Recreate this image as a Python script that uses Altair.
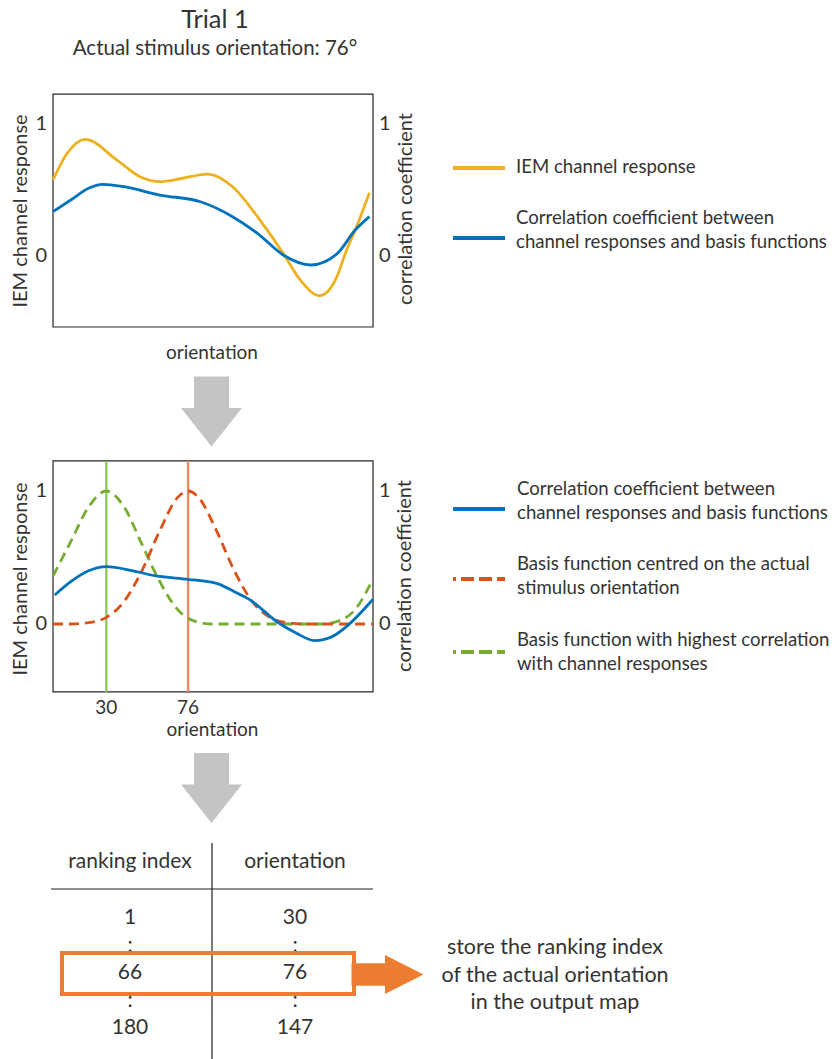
import altair as alt
import pandas as pd

FONT = "Lato"
TXT = "#333333"
YELLOW = "#EDB120"
BLUE = "#0072BD"
RED = "#D95319"
GREEN = "#77AC30"
RED_LIGHT = "#F0845C"
GREEN_LIGHT = "#8CC45E"
ORANGE = "#ED7D31"
GRAY_ARROW = "#C4C4C4"

TITLE = "Trial 1"
SUBTITLE = "Actual stimulus orientation: 76°"

# ---- top panel data (orientation in degrees) ----
iem_deg = [0, 8, 18, 36, 49, 60, 73, 87, 101, 116, 129.5, 139, 150, 159.6, 165, 170, 178]
iem_val = [0.576, 0.778, 0.884, 0.727, 0.60, 0.563, 0.589, 0.621, 0.525, 0.28, 0.02, -0.18,
           -0.30, -0.16, 0.04, 0.197, 0.48]
corr1_deg = [0, 10, 20, 28, 40, 60, 83, 101, 115, 129.5, 145, 160, 170, 178]
corr1_val = [0.336, 0.424, 0.513, 0.543, 0.525, 0.462, 0.411, 0.298, 0.172, 0.008, -0.068,
             0.02, 0.197, 0.298]

# ---- middle panel data ----
corr2_deg = [1, 10, 20, 30, 45, 58, 76, 92, 102, 111, 126, 137, 147, 157, 165, 180]
corr2_val = [0.218, 0.318, 0.40, 0.431, 0.40, 0.361, 0.336, 0.306, 0.243, 0.18, 0.017, -0.07,
             -0.125, -0.095, -0.02, 0.186]
basis_actual_deg = [0, 10, 20, 30, 40, 50, 60, 70, 76, 82, 92, 102, 112, 122, 132, 142, 160, 180]
basis_actual_val = [0, 0, 0.01, 0.05, 0.17, 0.40, 0.70, 0.95, 1.0, 0.95, 0.70, 0.40, 0.17, 0.05,
                    0.01, 0, 0, 0]
basis_best_deg = [0, 10, 20, 30, 40, 50, 60, 70, 80, 90, 150, 160, 170, 180]
basis_best_val = [0.36, 0.62, 0.88, 1.0, 0.88, 0.60, 0.32, 0.11, 0.02, 0, 0, 0.02, 0.11, 0.34]
actual_orientation = 76
best_orientation = 30
x_ticks = [30, 76]
y_ticks = [0, 1]
YLIM_A = [-0.538, 1.227]
YLIM_B = [-0.511, 1.226]

LEG_TOP = ["IEM channel response",
           "Correlation coefficient between\nchannel responses and basis functions"]
LEG_MID = ["Correlation coefficient between\nchannel responses and basis functions",
           "Basis function centred on the actual\nstimulus orientation",
           "Basis function with highest correlation\nwith channel responses"]

# ---- table ----
table_header = ["ranking index", "orientation"]
rank_col = ["1", ":", "66", ":", "180"]
orient_col = ["30", ":", "76", ":", "147"]
STORE_TEXT = "store the ranking index\nof the actual orientation\nin the output map"

DOWN_ARROW = "M-0.5,-1L0.5,-1L0.5,-0.1L0.87,-0.1L0,1L-0.87,-0.1L-0.5,-0.1Z"
RIGHT_ARROW = "M-1,-0.31L-0.07,-0.31L-0.07,-0.54L1,0L-0.07,0.54L-0.07,0.31L-1,0.31Z"
LEG_SIZE = 18.6


def ptext(txt, x, y, size=19, angle=0, align="center", line_height=24, baseline="middle"):
    return alt.Chart(pd.DataFrame({"t": [txt]})).mark_text(
        font=FONT, fontSize=size, color=TXT, align=align, baseline=baseline,
        angle=angle, lineBreak="\n", lineHeight=line_height
    ).encode(x=alt.value(x), y=alt.value(y), text="t:N")


def line_df(d, v):
    return pd.DataFrame({"deg": d, "val": v})


XS = alt.Scale(domain=[0, 180], range=[45, 365], nice=False, zero=False)


def panel(ys, ylim, curves, extra=None):
    X = alt.X("deg:Q", scale=XS, axis=None)
    Y = alt.Y("val:Q", scale=ys, axis=None)
    layers = []
    frame = alt.Chart(pd.DataFrame({"x0": [0], "x1": [180], "y0": [ylim[0]], "y1": [ylim[1]]})).mark_rect(
        fillOpacity=0, stroke="#262626", strokeWidth=1.2
    ).encode(x=alt.X("x0:Q", scale=XS, axis=None), x2="x1:Q",
             y=alt.Y("y0:Q", scale=ys, axis=None), y2="y1:Q")
    layers.append(frame)
    if extra:
        layers += extra(X, Y)
    for d, v, col, dash in curves:
        kw = dict(interpolate="monotone", strokeWidth=2.8, color=col)
        if dash:
            kw["strokeDash"] = [10, 6]
        layers.append(alt.Chart(line_df(d, v)).mark_line(**kw).encode(x=X, y=Y))
    tick_df = pd.DataFrame({"val": y_ticks, "t": [str(t) for t in y_ticks]})
    layers.append(alt.Chart(tick_df).mark_text(font=FONT, fontSize=20, color=TXT, align="right",
                                               baseline="middle")
                  .encode(x=alt.value(39), y=Y, text="t:N"))
    layers.append(alt.Chart(tick_df).mark_text(font=FONT, fontSize=20, color=TXT, align="left",
                                               baseline="middle")
                  .encode(x=alt.value(371), y=Y, text="t:N"))
    return alt.layer(*layers)


YA = alt.Scale(domain=[0, 1], range=[248, 116], nice=False, zero=False)
YB = alt.Scale(domain=[0, 1], range=[616, 483], nice=False, zero=False)

plotA = panel(YA, YLIM_A, [(iem_deg, iem_val, YELLOW, False), (corr1_deg, corr1_val, BLUE, False)])


def extraB(X, Y):
    vdf = pd.DataFrame({"deg": [best_orientation, actual_orientation], "y0": [YLIM_B[0]] * 2,
                        "y1": [YLIM_B[1]] * 2, "c": ["best", "actual"]})
    rules = alt.Chart(vdf).mark_rule(strokeWidth=2.3).encode(
        x=X, y=alt.Y("y0:Q", scale=YB, axis=None), y2="y1:Q",
        color=alt.Color("c:N", scale=alt.Scale(domain=["best", "actual"], range=[GREEN_LIGHT, RED_LIGHT]),
                        legend=None))
    tdf = pd.DataFrame({"deg": x_ticks, "t": [str(t) for t in x_ticks]})
    ticks = alt.Chart(tdf).mark_text(font=FONT, fontSize=19, color=TXT, baseline="middle").encode(
        x=X, y=alt.value(700), text="t:N")
    return [rules, ticks]


plotB = panel(YB, YLIM_B, [(basis_best_deg, basis_best_val, GREEN, True),
                           (basis_actual_deg, basis_actual_val, RED, True),
                           (corr2_deg, corr2_val, BLUE, False)], extra=extraB)

# ---- table ----
cells = pd.DataFrame({
    "col": [0] * 5 + [1] * 5,
    "row": list(range(5)) * 2,
    "t": rank_col + orient_col,
})
TX = alt.X("col:Q", scale=alt.Scale(domain=[0, 1], range=[122, 287], nice=False, zero=False), axis=None)
cell_layer = alt.Chart(cells).mark_text(font=FONT, fontSize=21, color=TXT, baseline="middle").encode(
    x=TX, y=alt.Y("row:Q", scale=alt.Scale(domain=[0, 4], range=[910, 1020], nice=False, zero=False),
                  axis=None), text="t:N")
head_layer = alt.Chart(pd.DataFrame({"col": [0, 1], "t": table_header})).mark_text(
    font=FONT, fontSize=21, color=TXT, baseline="middle").encode(x=TX, y=alt.value(854), text="t:N")
table = alt.layer(head_layer, cell_layer)

hline = alt.Chart().mark_rule(color="#222222", strokeWidth=1.2).encode(
    x=alt.value(43), x2=alt.value(365), y=alt.value(881))
vline = alt.Chart().mark_rule(color="#222222", strokeWidth=1.2).encode(
    x=alt.value(204), y=alt.value(835), y2=alt.value(1051))
obox = alt.Chart().mark_rect(fillOpacity=0, stroke=ORANGE, strokeWidth=4).encode(
    x=alt.value(54), x2=alt.value(346), y=alt.value(945), y2=alt.value(986))
oarrow = alt.Chart().mark_point(shape=RIGHT_ARROW, filled=True, size=5184, color=ORANGE, opacity=1,
                                strokeWidth=0).encode(x=alt.value(379.5), y=alt.value(966.5))
garrow1 = alt.Chart().mark_point(shape=DOWN_ARROW, filled=True, size=4900, color=GRAY_ARROW, opacity=1,
                                 strokeWidth=0).encode(x=alt.value(203.5), y=alt.value(403.5))
garrow2 = alt.Chart().mark_point(shape=DOWN_ARROW, filled=True, size=4900, color=GRAY_ARROW, opacity=1,
                                 strokeWidth=0).encode(x=alt.value(203.5), y=alt.value(780))


def leg_rule(x1, x2, y, col, dash):
    kw = dict(color=col, strokeWidth=4)
    if dash:
        kw["strokeDash"] = [13, 5]
        kw["strokeDashOffset"] = 10
    return alt.Chart().mark_rule(**kw).encode(x=alt.value(x1), x2=alt.value(x2), y=alt.value(y))


decor = [
    ptext(TITLE, 207, 0, size=25.5, baseline="top"),
    ptext(SUBTITLE, 207, 41, size=20.5),
    ptext("IEM channel response", 13, 203, size=20, angle=270),
    ptext("correlation coefficient", 398, 201, size=20, angle=270),
    ptext("orientation", 204, 345),
    ptext("IEM channel response", 13, 571, size=20, angle=270),
    ptext("correlation coefficient", 397, 568, size=20, angle=270),
    ptext("orientation", 204.5, 722),
    leg_rule(445, 497, 160, YELLOW, False),
    leg_rule(445, 497, 230, BLUE, False),
    ptext(LEG_TOP[0], 508, 159, size=LEG_SIZE, align="left"),
    ptext(LEG_TOP[1], 508, 210, size=LEG_SIZE, align="left"),
    leg_rule(445, 497, 501, BLUE, False),
    leg_rule(445, 497, 571, RED, True),
    leg_rule(445, 497, 644, GREEN, True),
    ptext(LEG_MID[0], 509, 480.5, size=LEG_SIZE, align="left"),
    ptext(LEG_MID[1], 509, 555.5, size=LEG_SIZE, align="left"),
    ptext(LEG_MID[2], 509, 631.5, size=LEG_SIZE, align="left"),
    garrow1, garrow2,
    hline, vline, obox, oarrow,
    ptext(STORE_TEXT, 547, 940, size=21.5, line_height=27.5),
]

chart = alt.layer(plotA, plotB, table, *decor).resolve_scale(
    x="independent", y="independent", color="independent"
).properties(
    width=821, height=1051, padding=0, autosize=alt.AutoSizeParams(type="none")
).configure_view(stroke=None)

chart.save("out.html", embed_options={"renderer": "svg", "actions": False})
